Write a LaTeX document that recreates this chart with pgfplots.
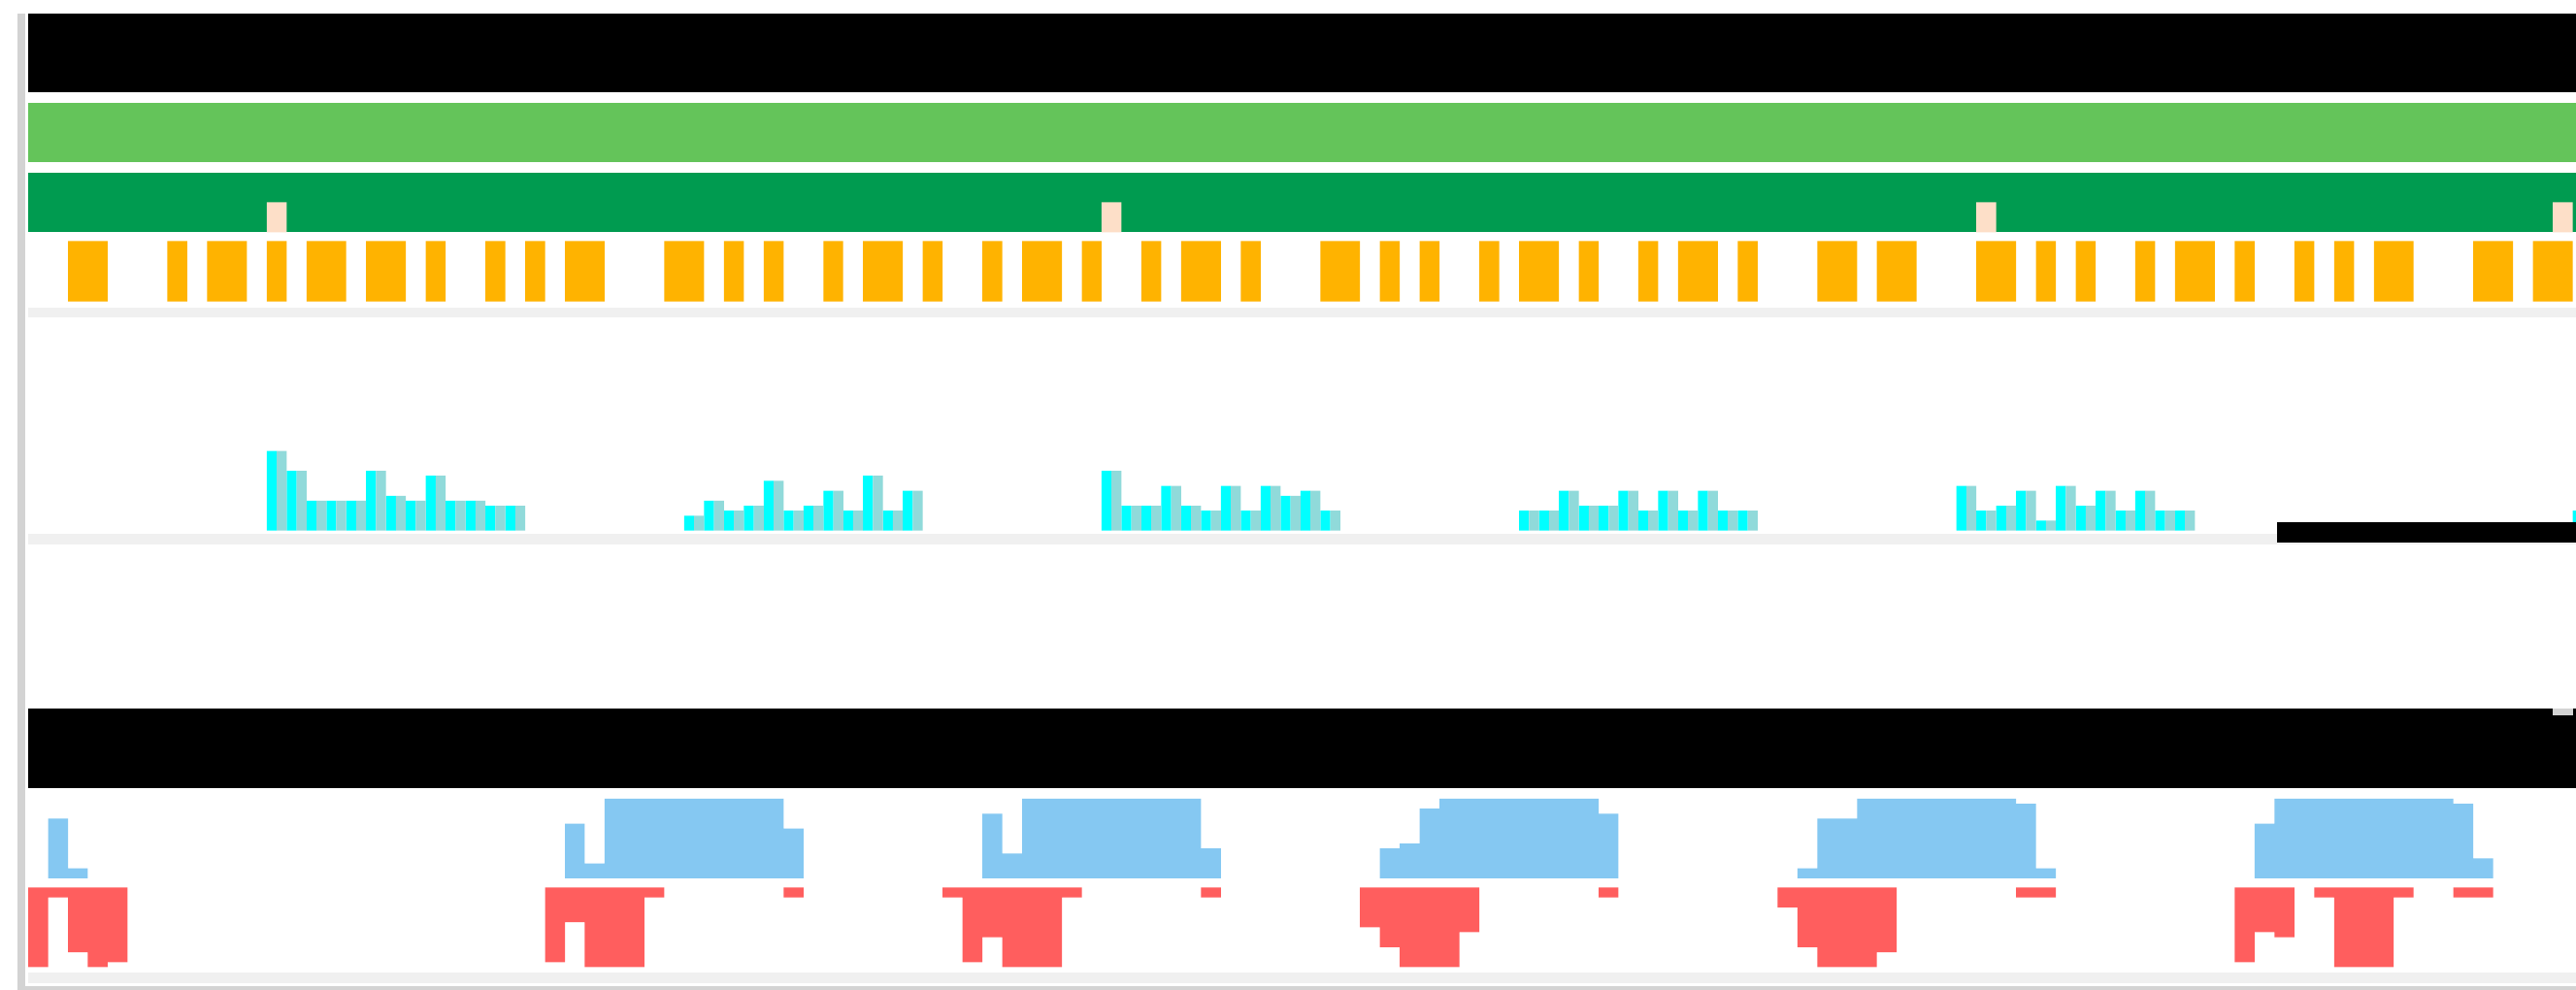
\documentclass[border=0pt]{standalone}
\usepackage{pgfplots}
\pgfplotsset{compat=1.18}
\definecolor{lgreen}{HTML}{64C45A}
\definecolor{dgreen}{HTML}{009B50}
\definecolor{orng}{HTML}{FFB300}
\definecolor{peach}{HTML}{FDDFC8}
\definecolor{cyanb}{HTML}{00FFFF}
\definecolor{tealb}{HTML}{90DADA}
\definecolor{blueb}{HTML}{85C8F2}
\definecolor{redb}{HTML}{FF5E5E}
\definecolor{band}{HTML}{F0F0F0}
\definecolor{edge}{HTML}{D3D3D3}
\pgfplotsset{
  trk/.style={scale only axis, width=26.54cm, xmin=-3.418, xmax=126.17, hide axis, anchor=south west},
  blk/.style={const plot mark left, fill=blueb, draw=none},
  rdk/.style={const plot mark left, fill=redb, draw=none},
}
\newcommand{\rect}[5]{\addplot[fill=#5,draw=none] coordinates {(#1,#2) (#3,#2) (#3,#4) (#1,#4)} -- cycle;}
\begin{document}
\begin{tikzpicture}
% background (y = 1020 - pixel row)
\begin{axis}[trk, at={(0cm,0cm)}, height=10.2cm, ymin=0, ymax=1020]
\rect{-3.418}{0}{126.17}{1020}{white}
\rect{-2.52}{0}{-2.16}{1006}{edge}
\rect{-2}{925}{126.17}{1006}{black}
\rect{-2}{853}{126.17}{914}{lgreen}
\rect{-2}{781}{126.17}{842}{dgreen}
\rect{-2}{693}{126.17}{703}{band}
\rect{-2}{459}{126.17}{470}{band}
\rect{-2}{208}{126.17}{290}{black}
\rect{-2}{7}{126.17}{18}{band}
\rect{-2.52}{0}{126.17}{4}{edge}
\end{axis}
% peach marks in dark green bar
\begin{axis}[trk, at={(0cm,7.807cm)}, height=0.31cm, ymin=0, ymax=1]
\addplot[ybar, bar width=1, bar shift=0.5, fill=peach, draw=none] coordinates {(10,1) (52,1) (96,1) (125,1)};
\end{axis}
% orange track
\begin{axis}[trk, at={(0cm,7.093cm)}, height=0.624cm, ymin=0, ymax=1]
% one-unit features
\addplot[ybar, bar width=1, bar shift=0.5, fill=orng, draw=none] coordinates {
(5,1) (10,1) (18,1) (21,1) (23,1) (33,1) (35,1) (38,1) (43,1) (46,1) (51,1) (54,1)
(59,1) (66,1) (68,1) (71,1) (76,1) (79,1) (84,1) (99,1) (101,1) (104,1) (109,1)
(112,1) (114,1)};
% two-unit features
\addplot[ybar, bar width=2, bar shift=1, fill=orng, draw=none] coordinates {
(0,1) (7,1) (12,1) (15,1) (25,1) (30,1) (40,1) (48,1) (56,1) (63,1) (73,1) (81,1)
(88,1) (91,1) (96,1) (106,1) (116,1) (121,1) (124,1)};
\end{axis}
% cyan coverage track
\pgfplotstableread{
x h
10 16
11 12
12 6
13 6
14 6
15 12
16 7
17 6
18 11
19 6
20 6
21 5
22 5
31 3
32 6
33 4
34 5
35 10
36 4
37 5
38 8
39 4
40 11
41 4
42 8
52 12
53 5
54 5
55 9
56 5
57 4
58 9
59 4
60 9
61 7
62 8
63 4
73 4
74 4
75 8
76 5
77 5
78 8
79 4
80 8
81 4
82 8
83 4
84 4
95 9
96 4
97 5
98 8
99 2
100 9
101 5
102 8
103 4
104 8
105 4
106 4
126 4
}\cyandata
\begin{axis}[trk, at={(0cm,4.733cm)}, height=0.8208cm, ymin=0, ymax=16]
\addplot[ybar, bar width=0.5, bar shift=0.25, fill=cyanb, draw=none] table[x=x, y=h] {\cyandata};
\addplot[ybar, bar width=0.5, bar shift=0.75, fill=tealb, draw=none] table[x=x, y=h] {\cyandata};
\end{axis}
% blue (upper) track
\begin{axis}[trk, at={(0cm,1.15cm)}, height=0.8208cm, ymin=0, ymax=16]
\addplot[blk] coordinates {(-1,12) (0,2) (1,0)} \closedcycle;
\addplot[blk] coordinates {(25,11) (26,3) (27,16) (36,10) (37,0)} \closedcycle;
\addplot[blk] coordinates {(46,13) (47,5) (48,16) (57,6) (58,0)} \closedcycle;
\addplot[blk] coordinates {(66,6) (67,7) (68,14) (69,16) (77,13) (78,0)} \closedcycle;
\addplot[blk] coordinates {(87,2) (88,12) (90,16) (98,15) (99,2) (100,0)} \closedcycle;
\addplot[blk] coordinates {(110,11) (111,16) (120,15) (121,4) (122,0)} \closedcycle;
\end{axis}
% red (lower) track
\begin{axis}[trk, at={(0cm,0.236cm)}, height=0.8208cm, ymin=-16, ymax=0]
\addplot[rdk] coordinates {(-2,-16) (-1,-2) (0,-13) (1,-16) (2,-15) (3,0)} \closedcycle;
\addplot[rdk] coordinates {(24,-15) (25,-7) (26,-16) (29,-2) (30,0)} \closedcycle;
\addplot[rdk] coordinates {(36,-2) (37,0)} \closedcycle;
\addplot[rdk] coordinates {(44,-2) (45,-15) (46,-10) (47,-16) (50,-2) (51,0)} \closedcycle;
\addplot[rdk] coordinates {(57,-2) (58,0)} \closedcycle;
\addplot[rdk] coordinates {(65,-8) (66,-12) (67,-16) (70,-9) (71,0)} \closedcycle;
\addplot[rdk] coordinates {(77,-2) (78,0)} \closedcycle;
\addplot[rdk] coordinates {(86,-4) (87,-12) (88,-16) (91,-13) (92,0)} \closedcycle;
\addplot[rdk] coordinates {(98,-2) (100,0)} \closedcycle;
\addplot[rdk] coordinates {(109,-15) (110,-9) (111,-10) (112,0)} \closedcycle;
\addplot[rdk] coordinates {(113,-2) (114,-16) (117,-2) (118,0)} \closedcycle;
\addplot[rdk] coordinates {(120,-2) (122,0)} \closedcycle;
\end{axis}
% overlay
\begin{axis}[trk, at={(0cm,0cm)}, height=10.2cm, ymin=0, ymax=1020]
\rect{111.13}{461}{126.17}{482}{black}
\rect{125}{283}{126}{290}{edge}
\end{axis}
\end{tikzpicture}
\end{document}
